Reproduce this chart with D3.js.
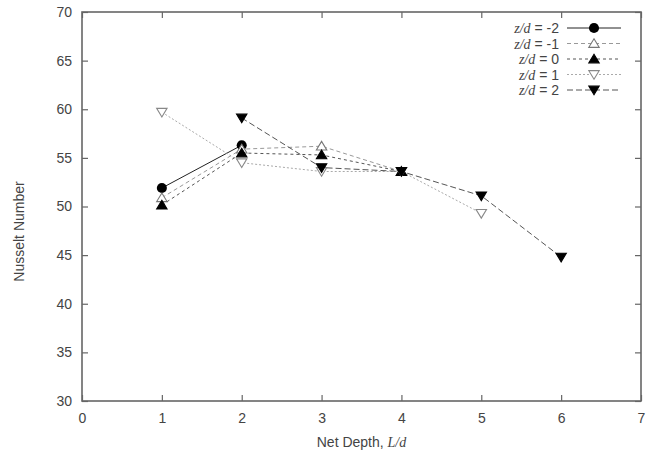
<!DOCTYPE html>
<html><head><meta charset="utf-8">
<script src="https://cdn.jsdelivr.net/npm/d3@7"></script>
<style>body{margin:0;background:#fff}svg{display:block}text{font-family:"Liberation Sans",Arial,sans-serif;fill:#444}</style>
</head><body><svg id="c" width="661" height="458"></svg>
<script>
const xTicks = [0,1,2,3,4,5,6,7];
const yTicks = [30,35,40,45,50,55,60,65,70];
const seriesLabels = ["-2","-1","0","1","2"];
const sNeg2 = [[1,51.9],[2,56.3]];
const sNeg1 = [[1,50.9],[2,55.9],[3,56.2],[4,53.6]];
const s0    = [[1,50.15],[2,55.5],[3,55.3],[4,53.6]];
const s1    = [[1,59.7],[2,54.5],[3,53.6],[4,53.6],[5,49.3]];
const s2    = [[2,59.1],[3,54.0],[4,53.6],[5,51.1],[6,44.8]];

const styles = [
  {data:sNeg2, sym:d3.symbolCircle, fill:"#000", stroke:"#000", line:"#222", dash:null, size:80},
  {data:sNeg1, sym:"up", fill:"#fff", stroke:"#777", line:"#999", dash:"4,3", size:0},
  {data:s0, sym:"up", fill:"#000", stroke:"#000", line:"#555", dash:"3,3", size:0},
  {data:s1, sym:"down", fill:"#fff", stroke:"#888", line:"#aaa", dash:"2,2", size:0},
  {data:s2, sym:"down", fill:"#000", stroke:"#000", line:"#555", dash:"6,3", size:0}
];

const svg = d3.select("#c");
const L=82,R=641,T=12,B=401;
const x = d3.scaleLinear().domain([0,7]).range([L,R]);
const y = d3.scaleLinear().domain([30,70]).range([B,T]);

function tri(g, cx, cy, dir, fill, stroke){
  const h=4.8, w=5.2;
  const pts = dir==="up" ? [[cx,cy-h],[cx+w,cy+h*0.8],[cx-w,cy+h*0.8]] : [[cx,cy+h],[cx+w,cy-h*0.8],[cx-w,cy-h*0.8]];
  g.append("path").attr("d","M"+pts.map(p=>p.join(",")).join("L")+"Z")
    .attr("fill",fill).attr("stroke",stroke).attr("stroke-width",1.1);
}
function marker(g,cx,cy,s){
  if(s.sym==="up"||s.sym==="down") tri(g,cx,cy,s.sym,s.fill,s.stroke);
  else g.append("path").attr("d",d3.symbol(s.sym,s.size)()).attr("transform",`translate(${cx},${cy})`).attr("fill",s.fill);
}

const fmt = d3.format("d");
const ax = d3.axisBottom(x).tickValues(xTicks).tickSize(-6).tickPadding(12).tickFormat(fmt);
const axT = d3.axisTop(x).tickValues(xTicks).tickSize(-6).tickFormat("");
const ay = d3.axisLeft(y).tickValues(yTicks).tickSize(-6).tickPadding(10).tickFormat(fmt);
const ayR = d3.axisRight(y).tickValues(yTicks).tickSize(-6).tickFormat("");
function style(g){g.select(".domain").remove();g.selectAll("line").attr("stroke","#666").attr("stroke-width",1.2);g.selectAll("text").attr("font-size",14).attr("fill","#444").style("font-family","Liberation Sans, Arial, sans-serif");}
svg.append("g").attr("transform",`translate(0,${B})`).call(ax).call(style);
svg.append("g").attr("transform",`translate(0,${T})`).call(axT).call(style);
svg.append("g").attr("transform",`translate(${L},0)`).call(ay).call(style);
svg.append("g").attr("transform",`translate(${R},0)`).call(ayR).call(style);
svg.append("rect").attr("x",L).attr("y",T).attr("width",R-L).attr("height",B-T).attr("fill","none").attr("stroke","#666").attr("stroke-width",1.6);

const xt = svg.append("text").attr("x",(L+R)/2).attr("y",447).attr("text-anchor","middle").attr("font-size",14);
xt.append("tspan").text("Net Depth, ");
xt.append("tspan").attr("font-style","italic").style("font-family","Liberation Serif, serif").text("L/d");
svg.append("text").attr("transform",`translate(24,${(T+B)/2+25}) rotate(-90)`).attr("text-anchor","middle").attr("font-size",14).text("Nusselt Number");

const line = d3.line().x(d=>x(d[0])).y(d=>y(d[1]));
styles.forEach(s=>{
  svg.append("path").attr("d",line(s.data)).attr("fill","none").attr("stroke",s.line).attr("stroke-width",1).attr("stroke-dasharray",s.dash);
});
styles.forEach(s=>{
  const g=svg.append("g");
  s.data.forEach(d=>marker(g,x(d[0]),y(d[1]),s));
});

styles.forEach((s,i)=>{
  const yy = 28 + i*15.5;
  const t = svg.append("text").attr("x",559).attr("y",yy+5).attr("text-anchor","end").attr("font-size",14);
  t.append("tspan").attr("font-style","italic").style("font-family","Liberation Serif, serif").text("z/d");
  t.append("tspan").text(" = "+seriesLabels[i]);
  svg.append("line").attr("x1",567).attr("x2",621).attr("y1",yy).attr("y2",yy).attr("stroke",s.line).attr("stroke-width",1).attr("stroke-dasharray",s.dash);
  const g=svg.append("g");
  marker(g,594,yy,s);
});
</script></body></html>
